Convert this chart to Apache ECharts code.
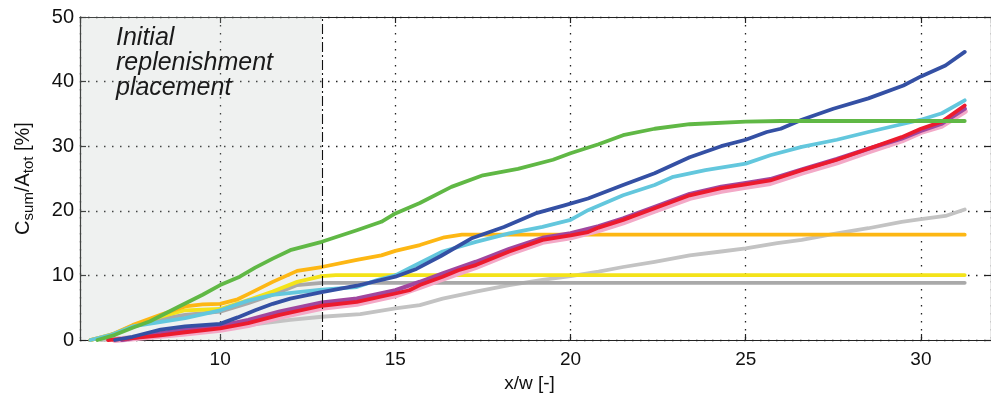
<!DOCTYPE html>
<html>
<head>
<meta charset="utf-8">
<script src="https://cdn.jsdelivr.net/npm/echarts@6/dist/echarts.min.js"></script>
<style>html,body{margin:0;padding:0;background:#fff;}#c{width:991px;height:400px;}</style>
</head>
<body>
<div id="c"></div>
<script>
// ---- data (x/w, Csum/Atot %) ----
const xTicks = [10, 15, 20, 25, 30];
const yTicks = [0, 10, 20, 30, 40, 50];
const placementStart = 6;
const placementEnd = 12.9;

const lightGray = [[6.6,0],[7.5,0.5],[8.3,0.8],[9,1.2],[10,1.8],[10.8,2.3],[12,3.1],[12.9,3.6],[14,4.0],[15,4.9],[15.7,5.4],[16.35,6.4],[17.3,7.5],[18.25,8.5],[19.2,9.3],[20,9.9],[20.8,10.6],[21.5,11.3],[22.4,12.1],[23.4,13.1],[24.3,13.7],[25,14.2],[25.9,15.0],[26.6,15.5],[27.6,16.5],[28.5,17.3],[29.45,18.3],[30,18.7],[30.7,19.2],[31.25,20.2]];
const darkGray = [[6.3,0],[7,1.0],[7.5,2.0],[8,3.0],[9,3.9],[10,4.4],[10.8,5.7],[11.5,7.0],[12.2,8.5],[12.9,8.85],[31.25,8.85]];
const yellow = [[6.3,0],[7,1.0],[7.5,2.2],[8.3,3.6],[9,4.6],[10,4.8],[10.8,6.2],[11.5,7.5],[12.2,9.0],[12.9,9.9],[13.3,10.05],[31.25,10.05]];
const orange = [[6.3,0],[6.8,0.6],[7.5,2.3],[8.3,3.9],[9,5.2],[9.5,5.5],[10,5.6],[10.5,6.3],[10.8,7.1],[11.5,9.0],[12.2,10.7],[12.9,11.3],[13.9,12.4],[14.6,13.1],[15,13.8],[15.7,14.7],[16.4,15.9],[16.9,16.3],[31.25,16.3]];
const pink = [[7.0,0],[8,0.5],[9,1.0],[10,1.6],[10.8,2.3],[11.7,3.6],[12.9,5.0],[13.9,5.6],[15,6.9],[15.7,8.2],[16.35,9.5],[17.3,11.3],[18.25,13.4],[19.2,15.2],[20,15.9],[20.8,17.0],[21.5,18.2],[22.4,20.0],[23.4,22.0],[24.3,23.1],[25,23.7],[25.7,24.3],[26.6,25.9],[27.6,27.5],[28.5,29.2],[29.45,30.9],[30,32.2],[30.6,33.2],[31.25,35.4]];
const purple = [[7.2,0],[8,0.8],[9,1.6],[10,2.2],[10.8,3.1],[11.7,4.4],[12.9,5.8],[13.9,6.4],[15,7.7],[15.7,9.0],[16.35,10.3],[17.3,12.1],[18.25,14.1],[19.2,15.8],[20,16.5],[20.8,17.6],[21.5,18.8],[22.4,20.6],[23.4,22.6],[24.3,23.7],[25,24.3],[25.7,24.9],[26.6,26.4],[27.6,28.0],[28.5,29.6],[29.45,31.2],[30,32.4],[30.6,33.5],[31.25,35.8]];
const red = [[6.8,0],[7.5,0.3],[8.3,0.7],[9,1.2],[10,1.8],[10.8,2.6],[11.7,3.9],[12.9,5.3],[13.9,5.9],[15,7.2],[15.4,7.7],[15.7,8.5],[16.35,9.8],[16.8,10.8],[17.3,11.6],[18.25,13.7],[19.2,15.5],[20,16.2],[20.5,16.7],[20.8,17.4],[21.5,18.6],[22.4,20.4],[23.4,22.4],[24.3,23.5],[25,24.1],[25.7,24.7],[26.6,26.3],[27.6,27.9],[28.5,29.6],[29.45,31.4],[30,32.7],[30.6,33.8],[31.25,36.3]];
const cyan = [[6.3,0],[6.9,0.8],[7.5,2.1],[8.1,2.6],[9,3.4],[10,4.6],[10.8,6.1],[11.5,7.0],[12.9,7.8],[13.9,8.2],[14.5,9.3],[15,10.0],[15.4,11.1],[16.35,13.7],[17.3,15.2],[18.25,16.5],[19.2,17.5],[20,18.6],[20.5,20.1],[21.5,22.4],[22.4,24.0],[22.9,25.2],[23.85,26.3],[25,27.3],[25.7,28.6],[26.6,29.9],[27.6,31.0],[28.5,32.2],[29.45,33.4],[30,34.1],[30.6,35.1],[31.25,37.1]];
const blue = [[7.0,0],[7.5,0.5],[8,1.2],[8.3,1.6],[9,2.1],[10,2.5],[10.5,3.5],[11,4.6],[11.5,5.6],[12,6.4],[12.9,7.4],[13.9,8.4],[15,9.8],[15.6,11.0],[16.3,13.0],[17.2,15.8],[18.1,17.5],[19,19.6],[19.8,20.8],[20.5,21.9],[21.5,24.0],[22.4,25.8],[23.4,28.3],[24.3,30.0],[25,31.0],[25.6,32.2],[26,32.7],[26.6,34.1],[27.5,35.8],[28.5,37.4],[29.5,39.4],[30,40.8],[30.7,42.5],[31.25,44.6]];
const green = [[6.5,0],[7,0.8],[7.5,1.9],[8,2.9],[8.8,5.1],[9.5,7.0],[10,8.5],[10.56,9.8],[11,11.2],[11.5,12.6],[12,13.9],[12.9,15.2],[13.9,17.0],[14.6,18.3],[15,19.6],[15.7,21.2],[16.6,23.7],[17.5,25.5],[18.5,26.5],[19.5,27.9],[20,28.9],[20.8,30.3],[21.5,31.7],[22.4,32.7],[23.4,33.4],[25,33.8],[26,33.9],[31.25,33.9]];

const FONT = '"Liberation Sans", Arial, Helvetica, sans-serif';
const chart = echarts.init(document.getElementById('c'), null, {renderer: 'canvas'});

function line(data, color, width, z) {
  return {type: 'line', data: data, showSymbol: false, symbol: 'none', smooth: false,
    lineStyle: {color: color, width: width, cap: 'round', join: 'round'}, z: z, silent: true, animation: false};
}

const gridLineStyle = {color: '#222', width: 1.3, type: [1.5, 6.5]};

const series = [
  {type: 'line', data: [], z: 1, silent: true,
   markArea: {silent: true, itemStyle: {color: 'rgba(180,192,186,0.22)'},
     data: [[{xAxis: placementStart}, {xAxis: placementEnd}]]},
   markLine: {silent: true, symbol: 'none', label: {show: false}, animation: false,
     lineStyle: {color: '#111', width: 1.1, type: [10, 3, 2, 3]},
     data: [{xAxis: placementEnd}]}},
  line(lightGray, '#c3c3c3', 3.8, 2),
  line(darkGray, '#a9a9a9', 3.8, 3),
  line(yellow, '#f4e31a', 3.8, 3),
  line(orange, '#fdb714', 3.8, 3),
  line(pink, '#f3a9c7', 6, 4),
  line(purple, '#a0479f', 4.2, 4),
  line(red, '#ec1b2e', 3.8, 5),
  line(cyan, '#63c7dd', 3.8, 5),
  line(blue, '#3450a4', 3.8, 6),
  line(green, '#60b845', 3.8, 6)
];

chart.setOption({
  animation: false,
  backgroundColor: '#ffffff',
  grid: {left: 80, top: 17, width: 913, height: 323, containLabel: false},
  xAxis: [
    {type: 'value', position: 'bottom', min: 6, max: 32, splitNumber: 5,
     axisLine: {show: true, onZero: false, lineStyle: {color: '#222', width: 1.2}},
     axisTick: {show: true, inside: true, length: 6, lineStyle: {color: '#222', width: 1.2}},
     axisLabel: {color: '#111', fontSize: 19, fontFamily: FONT, margin: 10, showMinLabel: false, showMaxLabel: false},
     splitLine: {show: true, lineStyle: gridLineStyle},
     name: 'x/w [-]', nameLocation: 'middle', nameGap: 34,
     nameTextStyle: {color: '#111', fontSize: 19, fontFamily: FONT, padding: [0, 12, 0, 0]}},
    {type: 'value', position: 'top', min: 6, max: 32, splitNumber: 5,
     axisLine: {show: true, onZero: false, lineStyle: {color: '#222', width: 1.2}},
     axisTick: {show: true, inside: true, length: 6, lineStyle: {color: '#222', width: 1.2}},
     axisLabel: {show: false}, splitLine: {show: false}}
  ],
  yAxis: [
    {type: 'value', position: 'left', min: 0, max: 50, interval: 10,
     axisLine: {show: true, onZero: false, lineStyle: {color: '#222', width: 1.2}},
     axisTick: {show: true, inside: true, length: 6, lineStyle: {color: '#222', width: 1.2}},
     axisLabel: {color: '#111', fontSize: 20, fontFamily: FONT, margin: 6},
     splitLine: {show: true, lineStyle: gridLineStyle},
     name: '{a|C}{s|sum}{a|/A}{s|tot}{a| [%]}', nameLocation: 'middle', nameRotate: 90, nameGap: 44,
     nameTextStyle: {color: '#111', fontFamily: FONT,
       rich: {
         a: {fontSize: 20, fontFamily: FONT, color: '#111', lineHeight: 26, verticalAlign: 'middle'},
         s: {fontSize: 15, fontFamily: FONT, color: '#111', lineHeight: 12, verticalAlign: 'bottom'}
       }}},
    {type: 'value', position: 'right', min: 0, max: 50, interval: 10,
     axisLine: {show: true, onZero: false, lineStyle: {color: '#222', width: 1.2}},
     axisTick: {show: true, inside: true, length: 6, lineStyle: {color: '#222', width: 1.2}},
     axisLabel: {show: false}, splitLine: {show: false}}
  ],
  graphic: [{
    type: 'text', left: 116, top: 26, z: 100, silent: true,
    style: {text: 'Initial\nreplenishment\nplacement', fill: '#1a1a1a',
      font: 'italic 25px ' + FONT, lineHeight: 25}
  }],
  series: series
});
</script>
</body>
</html>
